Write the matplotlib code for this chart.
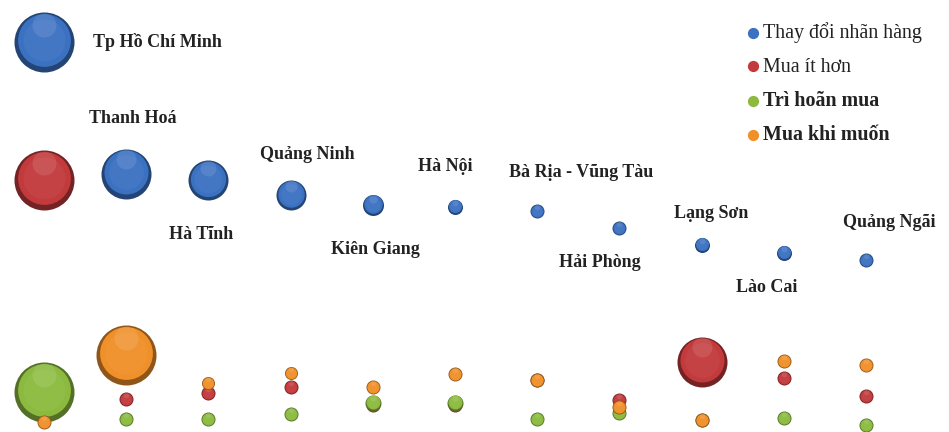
import numpy as np
import matplotlib
matplotlib.use("Agg")
import matplotlib.pyplot as plt
from matplotlib.colors import to_rgb
from matplotlib.transforms import offset_copy

provinces = ["Tp Hồ Chí Minh", "Thanh Hoá", "Hà Tĩnh", "Quảng Ninh", "Kiên Giang",
             "Hà Nội", "Bà Rịa - Vũng Tàu", "Hải Phòng", "Lạng Sơn", "Lào Cai", "Quảng Ngãi"]
cols = np.arange(len(provinces))

# vertical level of each bubble (top of picture = 0) and bubble radius
blue_y = [42, 174, 180, 195, 205, 207, 211, 228, 245, 253, 260]
blue_r = [30, 25, 20, 15, 10.5, 7.5, 7, 7, 7.5, 7.5, 7]
red_y = [180, 399, 393, 387, 405, 405, 380, 400, 362, 378, 396]
red_r = [30, 7, 7, 7, 7, 7, 7, 7, 25, 7, 7]
green_y = [392, 419, 419, 414, 403, 403, 419, 413, 420, 418, 425]
green_r = [30, 7, 7, 7, 8, 8, 7, 7, 7, 7, 7]
orange_y = [422, 355, 383, 373, 387, 374, 380, 407, 420, 361, 365]
orange_r = [7, 30, 6.5, 6.5, 7, 7, 7, 7, 7, 7, 7]

series = ["Thay đổi nhãn hàng", "Mua ít hơn", "Trì hoãn mua", "Mua khi muốn"]
colors = ["#3b71c1", "#c23a3c", "#8bba3f", "#f0902a"]

# label offsets from blue bubble (points)
label_dx = [35, 5, -5, 12, 2, -7, 32, -14, 7, -12, 17]
label_dy = [0, 40, -39, 29, -32, 29, 28, -25, 23, -25, 27]

fig = plt.figure(figsize=(9.49, 4.32), dpi=100)
ax = fig.add_axes([0, 0, 1, 1])
ax.set_xlim(-0.535, 11.01)
ax.set_ylim(432, 0)
ax.axis("off")


def shade(c, f):
    c = np.array(to_rgb(c))
    if f < 0:
        return tuple(c * (1 + f))
    return tuple(c + (1 - c) * f)


def bubble(x, y, r, color, z):
    d = 2 * r * 0.72
    ax.scatter(x, y, s=d ** 2, color=shade(color, -0.4), zorder=z, linewidths=0)
    t = offset_copy(ax.transData, fig=fig, x=0, y=r * 0.05, units="points")
    ax.scatter(x, y, s=(d * 0.88) ** 2, color=color, zorder=z + 0.1, linewidths=0, transform=t)
    ax.scatter(x, y, s=(d * 0.7) ** 2, color=shade(color, 0.08), alpha=0.5,
               zorder=z + 0.2, linewidths=0, transform=t)
    t2 = offset_copy(ax.transData, fig=fig, x=0, y=r * 0.42, units="points")
    ax.scatter(x, y, s=(d * 0.4) ** 2, color="white", alpha=0.1,
               zorder=z + 0.3, linewidths=0, transform=t2)


for i in cols:
    bubble(i, blue_y[i], blue_r[i], colors[0], 2)
    bubble(i, red_y[i], red_r[i], colors[1], 3)
    bubble(i, green_y[i], green_r[i], colors[2], 4)
    bubble(i, orange_y[i], orange_r[i], colors[3], 5)

for i, name in enumerate(provinces):
    ha = "left" if i == 0 else "center"
    ax.annotate(name, (i, blue_y[i]), xytext=(label_dx[i], label_dy[i]),
                textcoords="offset points", ha=ha, va="center",
                fontsize=13, fontweight="bold", family="Liberation Serif", color="#222222")

handles = [ax.scatter([], [], s=50, color=c) for c in colors]
leg = ax.legend(handles, series, loc="upper right", bbox_to_anchor=(0.99, 0.99),
                frameon=False, handlelength=0.7, handletextpad=0.15, labelspacing=0.72,
                prop={"family": "Liberation Serif", "size": 14.4})
for j, txt in enumerate(leg.get_texts()):
    txt.set_color("#222222")
    if j >= 2:
        txt.set_fontweight("bold")

fig.savefig("out.png", dpi=100)
